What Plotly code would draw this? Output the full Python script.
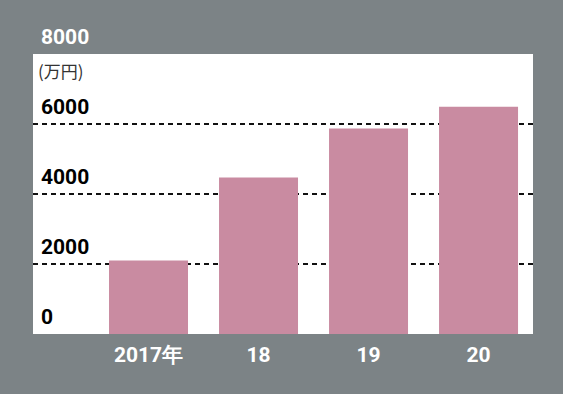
import plotly.graph_objects as go

categories = ["2017年", "18", "19", "20"]
values = [2100, 4470, 5870, 6490]
tick_values = [0, 2000, 4000, 6000, 8000]
tick_labels = ["0", "2000", "4000", "6000", "8000"]
unit_label = "(万円)"

BG = "#7c8386"
BAR = "#c98ba1"
FONT = "Roboto, Liberation Sans, sans-serif"

fig = go.Figure()
fig.add_trace(go.Bar(
    x=list(range(len(categories))), y=values,
    marker=dict(color=BAR, line=dict(width=0)),
    width=0.718,
))

annotations = []
for v, t in zip(tick_values, tick_labels):
    annotations.append(dict(
        x=0, xref="paper", y=v, yref="y", xanchor="left", yanchor="middle",
        xshift=6, yshift=17, text="<b>%s</b>" % t, showarrow=False,
        font=dict(family=FONT, size=21, color="white" if v == tick_values[-1] else "black"),
    ))
annotations.append(dict(
    x=0, xref="paper", y=1, yref="paper", xanchor="left", yanchor="middle",
    xshift=3, yshift=-16, text=unit_label, showarrow=False,
    font=dict(family="Noto Sans CJK JP, sans-serif", size=17, color="#333333"),
))

fig.update_layout(
    width=563, height=394,
    margin=dict(l=33, r=30, t=54, b=60),
    paper_bgcolor=BG, plot_bgcolor="white",
    showlegend=False,
    annotations=annotations,
    xaxis=dict(
        range=[-1.05, 3.495], tickmode="array",
        tickvals=list(range(len(categories))),
        ticktext=["<b>%s</b>" % c for c in categories],
        tickfont=dict(family=FONT, size=21, color="white"),
        showgrid=False, zeroline=False, showline=False, ticks="",
        ticklabelstandoff=6,
    ),
    yaxis=dict(
        range=[0, 8000], tickmode="array", tickvals=tick_values[1:-1],
        showticklabels=False, showgrid=True, gridcolor="#111111",
        gridwidth=1.5, griddash="5px,4px", zeroline=False, showline=False,
    ),
)

fig.write_html("out.html")
